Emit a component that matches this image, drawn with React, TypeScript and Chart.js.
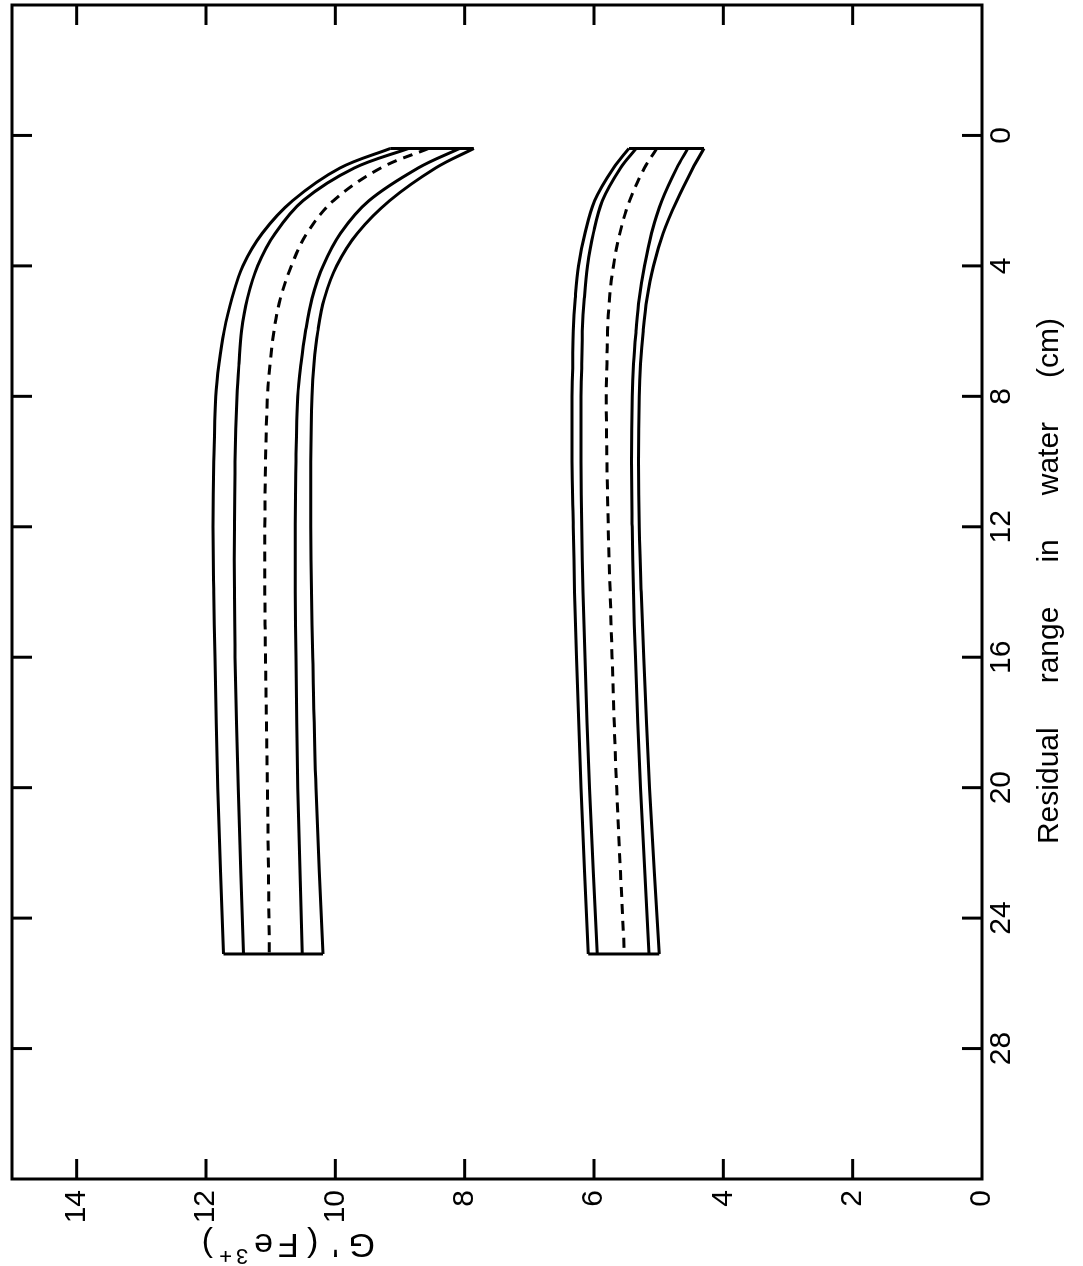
import React, { useEffect, useRef } from "react";
import { Chart, registerables } from "chart.js";

Chart.register(...registerables);

// Residual range in water (cm) at which the curves were read
const residualRange = [0.4, 1, 2, 3, 4, 5, 6, 7, 8, 10, 12, 14, 16, 20, 25.1];

// Upper band (G' ~ 8 - 12)
const upperOuterHigh = [9.15, 9.93, 10.66, 11.13, 11.43, 11.6, 11.72, 11.8, 11.85, 11.88, 11.89, 11.88, 11.86, 11.82, 11.73];
const upperInnerHigh = [8.87, 9.71, 10.5, 10.93, 11.2, 11.36, 11.45, 11.49, 11.52, 11.55, 11.56, 11.56, 11.55, 11.5, 11.42];
const upperMean = [8.56, 9.3, 10.03, 10.44, 10.68, 10.85, 10.95, 11.01, 11.05, 11.08, 11.09, 11.09, 11.08, 11.05, 11.02];
const upperInnerLow = [8.08, 8.72, 9.48, 9.92, 10.19, 10.36, 10.46, 10.53, 10.58, 10.61, 10.62, 10.62, 10.61, 10.58, 10.51];
const upperOuterLow = [7.86, 8.45, 9.16, 9.66, 9.98, 10.17, 10.27, 10.33, 10.36, 10.38, 10.38, 10.37, 10.35, 10.3, 10.19];

// Lower band (G' ~ 4.3 - 6.3)
const lowerOuterHigh = [5.46, 5.7, 5.99, 6.14, 6.24, 6.29, 6.32, 6.33, 6.34, 6.34, 6.32, 6.3, 6.27, 6.2, 6.09];
const lowerInnerHigh = [5.35, 5.59, 5.87, 6.01, 6.1, 6.15, 6.18, 6.19, 6.2, 6.2, 6.19, 6.17, 6.14, 6.07, 5.95];
const lowerMean = [5.03, 5.22, 5.45, 5.6, 5.7, 5.76, 5.79, 5.8, 5.81, 5.8, 5.78, 5.75, 5.72, 5.65, 5.53];
const lowerInnerLow = [4.55, 4.72, 4.95, 5.11, 5.22, 5.3, 5.35, 5.39, 5.41, 5.42, 5.41, 5.39, 5.36, 5.28, 5.15];
const lowerOuterLow = [4.3, 4.47, 4.72, 4.93, 5.08, 5.18, 5.24, 5.28, 5.3, 5.31, 5.3, 5.27, 5.23, 5.14, 4.99];

// Axis ticks
const rangeTicks = [0, 4, 8, 12, 16, 20, 24, 28];
const gTicks = [0, 2, 4, 6, 8, 10, 12, 14];

const xTitleWords = ["Residual", "range", "in", "water", "(cm)"];
const FONT = '"Liberation Sans", Arial, sans-serif';

function curve(values: number[], dashed: boolean) {
  return {
    data: residualRange.map((r, i) => ({ x: r, y: values[i] })),
    borderColor: "#000",
    borderWidth: 3,
    borderDash: dashed ? [10, 7] : [],
    tension: 0.35,
    pointRadius: 0,
    fill: false,
  };
}

function cap(idx: number, hi: number[], lo: number[]) {
  return {
    data: [
      { x: residualRange[idx], y: hi[idx] },
      { x: residualRange[idx], y: lo[idx] },
    ],
    borderColor: "#000",
    borderWidth: 3,
    tension: 0,
    pointRadius: 0,
    fill: false,
  };
}

const framePlugin = {
  id: "frameAndTitles",
  afterDraw(chart: any) {
    const { ctx, chartArea: a, scales } = chart;
    const x = scales.x;
    const y = scales.y;
    ctx.save();
    ctx.strokeStyle = "#000";
    ctx.fillStyle = "#000";
    ctx.lineWidth = 3;
    ctx.lineCap = "butt";
    ctx.strokeRect(a.left, a.top, a.right - a.left, a.bottom - a.top);
    const tl = 20;
    const seg = (x1: number, y1: number, x2: number, y2: number) => {
      ctx.beginPath();
      ctx.moveTo(x1, y1);
      ctx.lineTo(x2, y2);
      ctx.stroke();
    };
    rangeTicks.forEach((v) => {
      const px = x.getPixelForValue(v);
      seg(px, a.top, px, a.top + tl);
      seg(px, a.bottom, px, a.bottom - tl);
    });
    gTicks.forEach((v) => {
      if (v === 0) return;
      const py = y.getPixelForValue(v);
      seg(a.left, py, a.left + tl, py);
      seg(a.right, py, a.right - tl, py);
    });

    // x title (words widely spaced)
    ctx.font = `30px ${FONT}`;
    ctx.textBaseline = "middle";
    ctx.textAlign = "left";
    const gap = 44;
    const widths = xTitleWords.map((w) => ctx.measureText(w).width);
    const total = widths.reduce((s, w) => s + w, 0) + gap * (xTitleWords.length - 1);
    let cx = (a.left + a.right) / 2 + 11 - total / 2;
    const ty = a.bottom + 68;
    xTitleWords.forEach((w, i) => {
      ctx.fillText(w, cx, ty);
      cx += widths[i] + gap;
    });

    // y title G'(Fe3+) rotated
    const pieces = [
      { t: "G", s: 34, dy: 0, g: 10 },
      { t: "'", s: 34, dy: 0, g: 14 },
      { t: "(", s: 34, dy: 0, g: 8 },
      { t: "F", s: 34, dy: 0, g: 5 },
      { t: "e", s: 34, dy: 0, g: 6 },
      { t: "3", s: 22, dy: -12, g: 4 },
      { t: "+", s: 22, dy: -12, g: 6 },
      { t: ")", s: 34, dy: 0, g: 0 },
    ];
    const pw = pieces.map((p) => {
      ctx.font = `${p.s}px ${FONT}`;
      return ctx.measureText(p.t).width;
    });
    const ptotal = pw.reduce((s, w, i) => s + w + pieces[i].g, 0);
    ctx.translate(a.left - 64, a.top + 0.285 * (a.bottom - a.top));
    ctx.rotate(-Math.PI / 2);
    let px = -ptotal / 2;
    pieces.forEach((p, i) => {
      ctx.font = `${p.s}px ${FONT}`;
      ctx.fillText(p.t, px, p.dy);
      px += pw[i] + p.g;
    });
    ctx.restore();
  },
};

export default function App() {
  const ref = useRef<HTMLCanvasElement | null>(null);
  useEffect(() => {
    if (!ref.current) return;
    const chart = new Chart(ref.current, {
      type: "line",
      data: {
        datasets: [
          curve(upperOuterHigh, false),
          curve(upperInnerHigh, false),
          curve(upperMean, true),
          curve(upperInnerLow, false),
          curve(upperOuterLow, false),
          cap(0, upperOuterHigh, upperOuterLow),
          cap(residualRange.length - 1, upperOuterHigh, upperOuterLow),
          curve(lowerOuterHigh, false),
          curve(lowerInnerHigh, false),
          curve(lowerMean, true),
          curve(lowerInnerLow, false),
          curve(lowerOuterLow, false),
          cap(0, lowerOuterHigh, lowerOuterLow),
          cap(residualRange.length - 1, lowerOuterHigh, lowerOuterLow),
        ] as any,
      },
      options: {
        responsive: false,
        animation: false,
        devicePixelRatio: 1,
        layout: { padding: { top: 12, right: 5, left: 0, bottom: 0 } },
        plugins: { legend: { display: false }, tooltip: { enabled: false } },
        scales: {
          x: {
            type: "linear",
            reverse: true,
            min: -4,
            max: 32,
            grid: { display: false, drawTicks: false },
            border: { display: false },
            ticks: {
              color: "#000",
              font: { family: FONT, size: 30 },
              padding: 2,
              maxRotation: 0,
              autoSkip: false,
            },
            afterBuildTicks: (s: any) => {
              s.ticks = rangeTicks.map((v) => ({ value: v }));
            },
            afterFit: (s: any) => {
              s.height = 101;
              s.paddingLeft = 0;
              s.paddingRight = 0;
              s.paddingTop = 0;
              s.paddingBottom = 0;
            },
          },
          y: {
            type: "linear",
            min: 0,
            max: 15,
            grid: { display: false, drawTicks: false },
            border: { display: false },
            ticks: {
              color: "#000",
              font: { family: FONT, size: 30 },
              padding: 11,
              autoSkip: false,
            },
            afterBuildTicks: (s: any) => {
              s.ticks = gTicks.map((v) => ({ value: v }));
            },
            afterFit: (s: any) => {
              s.width = 87;
              s.paddingLeft = 0;
              s.paddingRight = 0;
              s.paddingTop = 0;
              s.paddingBottom = 0;
            },
          },
        },
      } as any,
      plugins: [framePlugin],
    });
    return () => chart.destroy();
  }, []);

  return (
    <div
      style={{
        position: "fixed",
        left: 0,
        top: 0,
        width: 1266,
        height: 1083,
        transformOrigin: "0 0",
        transform: "translateY(1266px) rotate(-90deg)",
        background: "#fff",
      }}
    >
      <canvas ref={ref} width={1266} height={1083} style={{ display: "block" }} />
    </div>
  );
}
